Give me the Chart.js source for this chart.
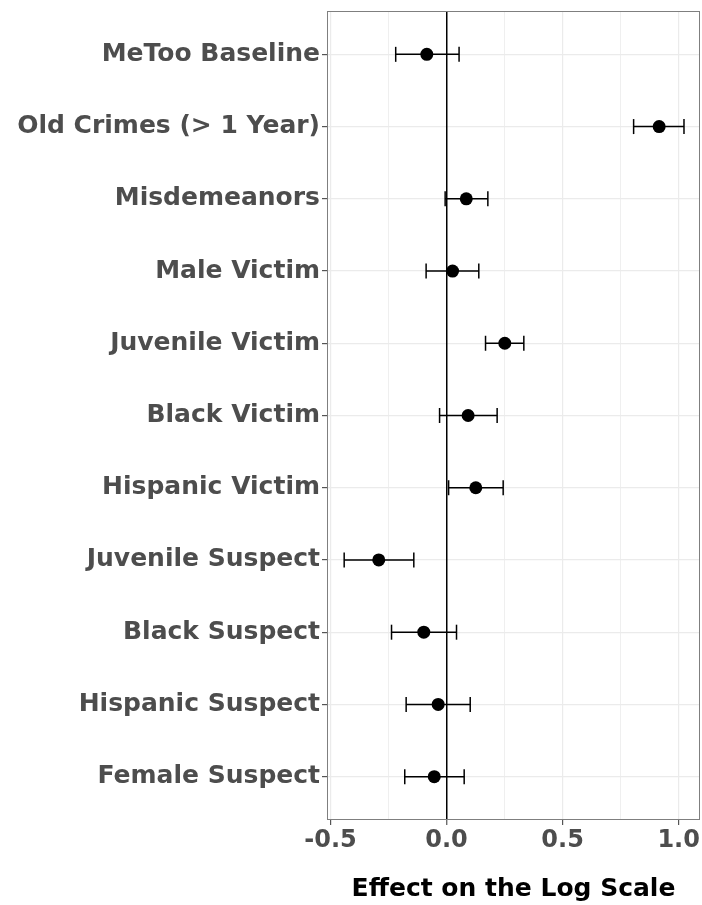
<!DOCTYPE html>
<html>
<head>
<meta charset="utf-8">
<script src="https://cdn.jsdelivr.net/npm/chart.js@4.4.1/dist/chart.umd.min.js"></script>
<style>
  html, body { margin: 0; padding: 0; background: #fff; }
  #wrap { width: 702px; height: 905px; }
</style>
</head>
<body>
<div id="wrap"><canvas id="effectChart"></canvas></div>
<script>
// ----- data -----
const categories = [
  "MeToo Baseline",
  "Old Crimes (> 1 Year)",
  "Misdemeanors",
  "Male Victim",
  "Juvenile Victim",
  "Black Victim",
  "Hispanic Victim",
  "Juvenile Suspect",
  "Black Suspect",
  "Hispanic Suspect",
  "Female Suspect"
];
const estimates = [-0.085, 0.916, 0.085, 0.026, 0.251, 0.093, 0.126, -0.292, -0.098, -0.036, -0.053];
const lower     = [-0.219, 0.806, -0.006, -0.088, 0.168, -0.030, 0.009, -0.441, -0.237, -0.174, -0.180];
const upper     = [0.054, 1.023, 0.178, 0.139, 0.333, 0.218, 0.244, -0.141, 0.043, 0.102, 0.076];
const xTicks    = [-0.5, -0.25, 0, 0.25, 0.5, 0.75, 1.0];

const FONT = "'DejaVu Sans', sans-serif";

// error bars: one line per row, caps drawn as rotated 'line' points
const errorBars = categories.map((_, i) => ({
  type: "line",
  data: [{ x: lower[i], y: i }, { x: upper[i], y: i }],
  borderColor: "#000",
  borderWidth: 1.5,
  pointStyle: "line",
  pointRotation: 90,
  pointRadius: 7.5,
  pointBorderWidth: 1.5,
  pointBorderColor: "#000",
  pointBackgroundColor: "#000",
  order: 2
}));

const points = {
  type: "scatter",
  data: estimates.map((v, i) => ({ x: v, y: i })),
  pointRadius: 6.5,
  backgroundColor: "#000",
  borderColor: "#000",
  borderWidth: 0,
  order: 1
};

const panelBorder = {
  id: "panelBorder",
  afterDraw(chart) {
    const { ctx, chartArea: a } = chart;
    ctx.save();
    ctx.strokeStyle = "#7f7f7f";
    ctx.lineWidth = 1;
    ctx.strokeRect(a.left + 0.5, a.top + 0.5, a.right - a.left - 1, a.bottom - a.top - 1);
    ctx.restore();
  }
};

const isMajor = v => Math.abs(v * 2 - Math.round(v * 2)) < 1e-9;

new Chart(document.getElementById("effectChart"), {
  type: "scatter",
  data: { datasets: [points, ...errorBars] },
  options: {
    responsive: true,
    maintainAspectRatio: false,
    animation: false,
    layout: { autoPadding: false, padding: { top: 11, right: 2, left: 0, bottom: 0 } },
    plugins: {
      legend: { display: false },
      tooltip: { enabled: false }
    },
    scales: {
      // y first so the x grid (with the zero line) is painted over it
      y: {
        type: "linear",
        reverse: true,
        min: -0.6,
        max: 10.6,
        afterBuildTicks: s => { s.ticks = categories.map((_, i) => ({ value: i })); },
        afterFit: s => { s.width = 327; s.paddingTop = 0; s.paddingBottom = 0; },
        ticks: {
          callback: v => categories[v],
          color: "#4d4d4d",
          font: { family: FONT, size: 25, weight: "bold" },
          padding: 2,
          autoSkip: false
        },
        grid: {
          color: "#ebebeb",
          lineWidth: 1.2,
          tickColor: "#555",
          tickLength: 5,
          tickWidth: 1.2
        },
        border: { display: false }
      },
      x: {
        type: "linear",
        min: -0.515,
        max: 1.092,
        afterBuildTicks: s => { s.ticks = xTicks.map(v => ({ value: v })); },
        afterFit: s => { s.height = 85; s.paddingLeft = 0; s.paddingRight = 0; },
        ticks: {
          callback: v => isMajor(v) ? v.toFixed(1) : "",
          color: "#4d4d4d",
          font: { family: FONT, size: 24, weight: "bold" },
          padding: 1,
          maxRotation: 0,
          autoSkip: false
        },
        grid: {
          color: c => c.tick.value === 0 ? "#000" : "#ebebeb",
          lineWidth: c => c.tick.value === 0 ? 1.5 : (isMajor(c.tick.value) ? 1.2 : 0.8),
          tickColor: c => isMajor(c.tick.value) ? "#555" : "rgba(0,0,0,0)",
          tickLength: 5,
          tickWidth: 1.2
        },
        border: { display: false },
        title: {
          display: true,
          text: "Effect on the Log Scale",
          color: "#000",
          font: { family: FONT, size: 25, weight: "bold" },
          padding: { top: 0, bottom: 1 }
        }
      }
    }
  },
  plugins: [panelBorder]
});
</script>
</body>
</html>
